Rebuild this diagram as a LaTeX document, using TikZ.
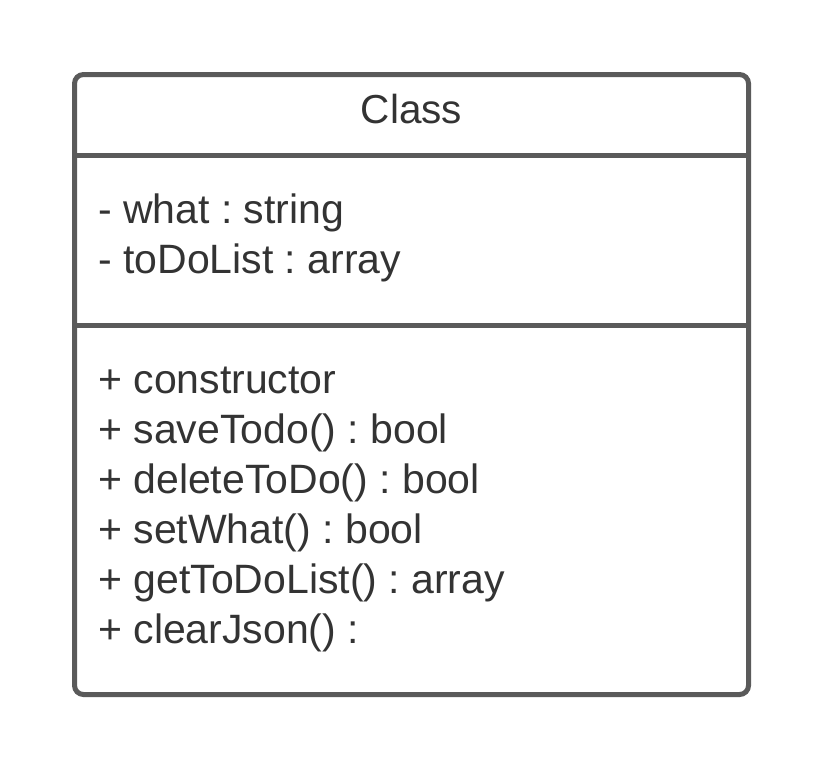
\documentclass[tikz,border=0pt]{standalone}
\usepackage{fontspec}
\setmainfont{Liberation Sans}
\frenchspacing
\definecolor{umlline}{HTML}{5A5A5A}
\definecolor{umltext}{HTML}{333333}
\tikzset{
  member/.style={anchor=base west,inner sep=0pt,text=umltext,font=\fontsize{41}{48}\selectfont},
  title/.style={anchor=base,inner sep=0pt,text=umltext,font=\fontsize{40.5}{48}\selectfont}
}

\begin{document}
\begin{tikzpicture}[x=1pt,y=-1pt]
  \useasboundingbox (0,0) rectangle (825,771);
  \draw[umlline,line width=5pt,rounded corners=9pt] (74.5,74.5) rectangle (748.5,694.5);
  \coordinate (s1w) at (74.5,155);
  \coordinate (s1e) at (748.5,155);
  \coordinate (s2w) at (74.5,325);
  \coordinate (s2e) at (748.5,325);
  \draw[umlline,line width=5pt] (s1w) -- (s1e);
  \draw[umlline,line width=5pt] (s2w) -- (s2e);
  \node[title] (name) at (411.5,123) {Class};
  \node[member] (attr1) at (98,223) {- what : string};
  \node[member] (attr2) at (98,273) {- toDoList : array};
  \node[member] (op1) at (98,393) {+ constructor};
  \node[member] (op2) at (98,443) {+ saveTodo() : bool};
  \node[member] (op3) at (98,493) {+ deleteToDo() : bool};
  \node[member] (op4) at (98,543) {+ setWhat() : bool};
  \node[member] (op5) at (98,593) {+ getToDoList() : array};
  \node[member] (op6) at (98,643) {+ clearJson() :};
\end{tikzpicture}
\end{document}
